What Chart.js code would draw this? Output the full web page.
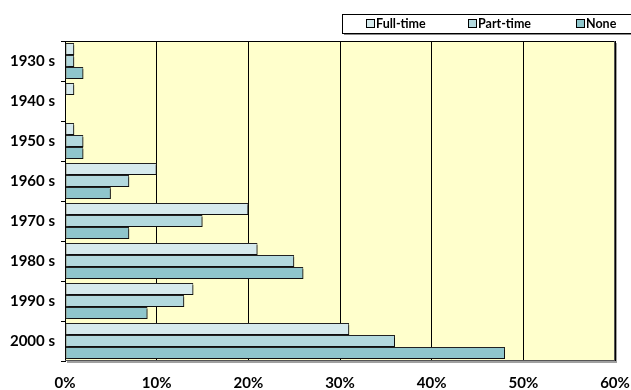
<!DOCTYPE html>
<html>
<head>
<meta charset="utf-8">
<script src="https://cdn.jsdelivr.net/npm/chart.js@4/dist/chart.umd.min.js"></script>
<style>
  html, body { margin: 0; padding: 0; background: #ffffff; }
  #wrap { width: 631px; height: 390px; position: relative; }
</style>
</head>
<body>
<div id="wrap"><canvas id="c" width="631" height="390"></canvas></div>
<script>
const decades = ['1930 s', '1940 s', '1950 s', '1960 s', '1970 s', '1980 s', '1990 s', '2000 s'];
const fullTime = [1, 1, 1, 10, 20, 21, 14, 31];
const partTime = [1, 0, 2, 7, 15, 25, 13, 36];
const none     = [2, 0, 2, 5, 7, 26, 9, 48];
const seriesNames = ['Full-time', 'Part-time', 'None'];
const percentTicks = [0, 10, 20, 30, 40, 50, 60];

const fills = ['#d6eaed', '#b3d9de', '#8fc6cc'];
const FONT = 'Lato, "Open Sans", sans-serif';

// Pale yellow plot background with a grey drop edge on the right and bottom
const plotBackground = {
  id: 'plotBackground',
  beforeDraw(chart) {
    const { ctx, chartArea: a } = chart;
    ctx.save();
    ctx.fillStyle = '#a0a0a0';
    ctx.fillRect(a.left + 2, a.top + 2, a.right - a.left, a.bottom - a.top);
    ctx.fillStyle = '#ffffcc';
    ctx.fillRect(a.left, a.top, a.right - a.left, a.bottom - a.top);
    ctx.restore();
  },
  afterDraw(chart) {
    const { ctx, chartArea: a } = chart;
    ctx.save();
    ctx.strokeStyle = '#000';
    ctx.lineWidth = 1;
    ctx.beginPath();
    ctx.moveTo(a.left - 4, a.top + 0.5);
    ctx.lineTo(a.right, a.top + 0.5);
    ctx.stroke();
    ctx.strokeStyle = '#555';
    ctx.beginPath();
    ctx.moveTo(a.right - 0.5, a.top);
    ctx.lineTo(a.right - 0.5, a.bottom);
    ctx.moveTo(a.left, a.bottom - 0.5);
    ctx.lineTo(a.right, a.bottom - 0.5);
    ctx.stroke();
    ctx.restore();
  }
};

// Drop shadow under the bars
const barShadow = {
  id: 'barShadow',
  beforeDatasetsDraw(chart) {
    const ctx = chart.ctx;
    ctx.save();
    ctx.shadowColor = 'rgba(0,0,0,0.55)';
    ctx.shadowOffsetX = 2;
    ctx.shadowOffsetY = 2;
    ctx.shadowBlur = 0;
  },
  afterDatasetsDraw(chart) {
    chart.ctx.restore();
  }
};

// Framed legend strip across the top right
const boxedLegend = {
  id: 'boxedLegend',
  afterDraw(chart) {
    const ctx = chart.ctx;
    const x0 = 342, y0 = 14, x1 = 634, y1 = 33;
    ctx.save();
    ctx.fillStyle = '#888';
    ctx.fillRect(x0 + 2, y0 + 2, x1 - x0, y1 - y0);
    ctx.fillStyle = '#fff';
    ctx.fillRect(x0, y0, x1 - x0, y1 - y0);
    ctx.strokeStyle = '#000';
    ctx.lineWidth = 1;
    ctx.strokeRect(x0 + 0.5, y0 + 0.5, x1 - x0, y1 - y0);
    const items = [366, 468, 576];
    ctx.font = 'bold 12.5px ' + FONT;
    ctx.textBaseline = 'middle';
    ctx.textAlign = 'left';
    chart.data.datasets.forEach((ds, i) => {
      const bx = items[i];
      ctx.fillStyle = ds.backgroundColor;
      ctx.fillRect(bx, 19.5, 8, 8);
      ctx.strokeStyle = '#000';
      ctx.strokeRect(bx + 0.5, 19.5, 8, 8);
      ctx.fillStyle = '#000';
      ctx.fillText(ds.label, bx + 10, 24);
    });
    ctx.restore();
  }
};

new Chart(document.getElementById('c'), {
  type: 'bar',
  data: {
    labels: decades,
    datasets: [
      { label: seriesNames[0], data: fullTime, backgroundColor: fills[0] },
      { label: seriesNames[1], data: partTime, backgroundColor: fills[1] },
      { label: seriesNames[2], data: none, backgroundColor: fills[2] }
    ].map(d => Object.assign(d, {
      borderColor: '#222',
      borderWidth: 1,
      borderSkipped: false,
      categoryPercentage: 0.9,
      barPercentage: 1.0
    }))
  },
  options: {
    indexAxis: 'y',
    responsive: false,
    animation: false,
    layout: { padding: { top: 41, right: 16, left: 0, bottom: 0 } },
    plugins: {
      legend: { display: false },
      tooltip: { enabled: false }
    },
    scales: {
      x: {
        min: 0,
        max: 60,
        afterBuildTicks(scale) { scale.ticks = percentTicks.map(v => ({ value: v })); },
        afterFit(scale) {
          scale.height = 29;
          scale.paddingLeft = 0;
          scale.paddingRight = 0;
        },
        ticks: {
          callback: v => v + '%',
          color: '#000',
          font: { family: FONT, size: 15, weight: 'bold' },
          padding: 13,
          maxRotation: 0
        },
        grid: { color: '#000', lineWidth: 1, drawTicks: false },
        border: { display: false }
      },
      y: {
        afterFit(scale) { scale.width = 65; },
        ticks: {
          color: '#000',
          font: { family: FONT, size: 15, weight: 'bold' },
          padding: 6
        },
        grid: { offset: true, drawOnChartArea: false, drawTicks: true, tickLength: 4, color: '#000' },
        border: { display: true, color: '#000', width: 1 }
      }
    }
  },
  plugins: [plotBackground, barShadow, boxedLegend]
});
</script>
</body>
</html>
